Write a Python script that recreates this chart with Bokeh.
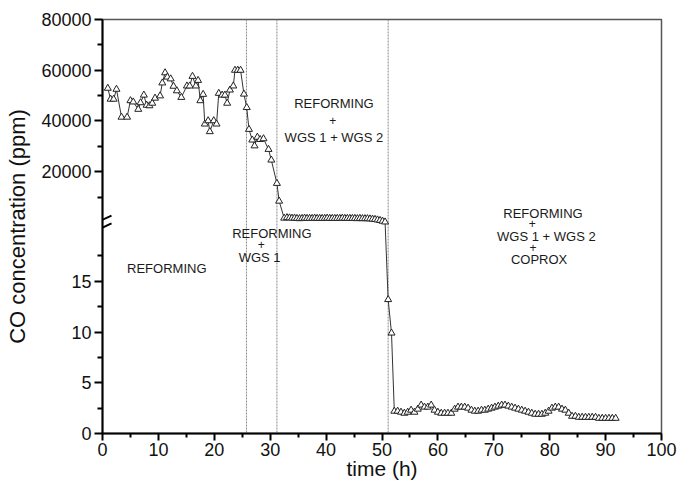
import numpy as np
from bokeh.plotting import figure
from bokeh.models import ColumnDataSource, FixedTicker, Span, Label, Arrow
from bokeh.embed import file_html
from bokeh.resources import INLINE

# ---------------- data ----------------
time_h = [
    0.95, 1.45, 2.0, 2.5, 3.4, 4.4, 5.0, 5.5, 6.4, 6.8,
    7.4, 7.9, 8.4, 8.9, 9.4, 10.3, 10.7, 11.2, 11.6, 12.2,
    12.7, 13.3, 14.1, 15.1, 15.6, 16.1, 16.7, 17.1, 17.5, 18.0,
    18.3, 18.9, 19.2, 19.9, 20.4, 20.8, 21.4, 21.9, 22.3, 22.8,
    23.4, 23.7, 24.2, 24.7, 25.3, 25.8, 26.2, 26.8, 27.2, 27.7,
    28.2, 28.8, 29.7, 30.2, 31.2, 31.6, 32.5,
    33.0, 33.45, 33.9, 34.35, 34.8, 35.25, 35.7, 36.15, 36.6, 37.05,
    37.5, 37.95, 38.4, 38.85, 39.3, 39.75, 40.2, 40.65, 41.1, 41.55,
    42.0, 42.45, 42.9, 43.35, 43.8, 44.25, 44.7, 45.15, 45.6, 46.05,
    46.5, 46.95, 47.4, 47.85, 48.3, 48.75, 49.2, 49.65, 50.1, 50.55,
    51.1, 51.7,
    52.2, 52.8, 53.4, 54.0, 54.6, 55.2, 55.8, 56.4, 57.0, 57.6,
    58.2, 58.8, 59.4, 60.0, 60.6, 61.2, 61.8, 62.4, 63.0, 63.6,
    64.2, 64.8, 65.4, 66.0, 66.6, 67.2, 67.8, 68.4, 69.0, 69.6,
    70.2, 70.8, 71.4, 72.0, 72.6, 73.2, 73.8, 74.4, 75.0, 75.6,
    76.2, 76.8, 77.4, 78.0, 78.6, 79.2, 79.8, 80.4, 81.0, 81.6,
    82.2, 82.8, 83.4, 84.0, 84.6, 85.2, 85.8, 86.4, 87.0, 87.6,
    88.2, 88.8, 89.4, 90.0, 90.6, 91.2, 91.8,
]
co_ppm = [
    52900, 48600, 48600, 52500, 41500, 41500, 48000, 47500, 44600, 47200,
    50200, 46200, 46000, 47000, 49000, 49900, 55000, 59000, 57300, 56600,
    53700, 51900, 49300, 53800, 53800, 57600, 53800, 56000, 48000, 50500,
    38800, 40100, 35800, 40100, 38800, 50900, 50200, 50200, 47000, 52200,
    53800, 60000, 60000, 60000, 50600, 45300, 36700, 32500, 30200, 33600,
    32700, 33000, 28800, 24600, 15400, 8400, 1700,
    1900, 1800, 1700, 1700, 1600, 1500, 1600, 1700, 1600, 1600,
    1600, 1700, 1600, 1600, 1600, 1600, 1700, 1600, 1600, 1600,
    1600, 1600, 1700, 1600, 1600, 1600, 1600, 1600, 1500, 1600,
    1500, 1500, 1500, 1400, 1300, 1200, 1000, 800, 500, 200,
    13.2, 9.9,
    2.2, 2.2, 2.1, 2.0, 2.1, 2.3, 2.1, 2.4, 2.8, 2.6,
    2.6, 2.8, 2.3, 2.1, 2.0, 2.0, 2.0, 2.0, 2.4, 2.6,
    2.6, 2.6, 2.5, 2.3, 2.2, 2.2, 2.3, 2.3, 2.4, 2.5,
    2.6, 2.7, 2.8, 2.8, 2.7, 2.6, 2.5, 2.4, 2.3, 2.2,
    2.1, 2.0, 1.9, 1.9, 1.9, 2.0, 2.2, 2.5, 2.6, 2.6,
    2.4, 2.3, 2.0, 1.7, 1.7, 1.6, 1.6, 1.6, 1.6, 1.6,
    1.6, 1.5, 1.5, 1.5, 1.5, 1.5, 1.5,
]

phase_starts = [25.75, 31.2, 51.1]          # vertical separators (h)

x_major = [0, 10, 20, 30, 40, 50, 60, 70, 80, 90, 100]
x_minor = [5, 15, 25, 35, 45, 55, 65, 75, 85, 95]
y_lower_major = [0, 5, 10, 15]
y_lower_minor = [2.5, 7.5, 12.5, 17.5]
y_upper_major = [20000, 40000, 60000, 80000]
y_upper_minor = [10000, 30000, 50000, 70000]

# ---------------- broken axis mapping ----------------
LOWER_MAX = 20.0      # ppm values up to this use the lower (0-20 ppm) segment
LOWER_SCALE = 10.0    # axis units per ppm on lower segment
UPPER_BASE = 208.0    # axis position of 0 ppm on the upper segment
UPPER_DIV = 400.0     # ppm per axis unit on upper segment


def to_axis(v):
    v = np.asarray(v, dtype=float)
    return np.where(v > LOWER_MAX, UPPER_BASE + v / UPPER_DIV, v * LOWER_SCALE)


def lower_pos(v):
    return int(round(float(v) * LOWER_SCALE))


def upper_pos(v):
    return int(round(UPPER_BASE + float(v) / UPPER_DIV))


FONT = "Liberation Sans"

src = ColumnDataSource(dict(t=time_h, y=to_axis(co_ppm)))

p = figure(width=678, height=485, x_range=(0, 100), y_range=(0, 408),
           output_backend="svg", toolbar_location=None,
           min_border_left=102, min_border_right=17, min_border_top=19,
           min_border_bottom=52)
p.background_fill_color = "white"
p.border_fill_color = "white"
p.outline_line_color = "#555555"
p.outline_line_width = 1.5
p.xgrid.visible = False
p.ygrid.visible = False

# vertical phase separators
for loc in phase_starts:
    p.add_layout(Span(location=loc, dimension="height", line_color="#8a8a8a",
                      line_dash="2 1", line_width=1, level="underlay"))

p.line("t", "y", source=src, line_color="#333333", line_width=1)
p.scatter("t", "y", source=src, marker="triangle", size=7,
          fill_color="white", line_color="#222222", line_width=1)

# ---- axes ----
xa = p.xaxis[0]
xa.ticker = FixedTicker(ticks=x_major, minor_ticks=x_minor)
ya = p.yaxis[0]
ya.ticker = FixedTicker(
    ticks=[lower_pos(v) for v in y_lower_major] + [upper_pos(v) for v in y_upper_major],
    minor_ticks=[v * LOWER_SCALE for v in y_lower_minor] + [UPPER_BASE + v / UPPER_DIV for v in y_upper_minor])
overrides = {lower_pos(v): str(v) for v in y_lower_major}
overrides.update({upper_pos(v): str(v) for v in y_upper_major})
ya.major_label_overrides = overrides

for ax in (xa, ya):
    ax.axis_line_width = 2
    ax.axis_line_color = "black"
    ax.major_tick_line_width = 2
    ax.minor_tick_line_width = 2
    ax.major_tick_in = 0
    ax.minor_tick_in = 0
    ax.major_label_text_font = FONT
    ax.major_label_text_font_size = "18px"
    ax.major_label_text_color = "#111111"
    ax.axis_label_text_font = FONT
    ax.axis_label_text_font_style = "normal"
    ax.axis_label_text_color = "#111111"

xa.major_tick_out = 7
xa.minor_tick_out = 4
xa.major_label_standoff = 2
xa.axis_label = "time (h)"
xa.axis_label_text_font_size = "21px"
xa.axis_label_standoff = -2

ya.major_tick_out = 8
ya.minor_tick_out = 5
ya.major_label_standoff = 3
ya.axis_label = "CO concentration (ppm)"
ya.axis_label_text_font_size = "22px"
ya.axis_label_standoff = 8

# axis-break marks
for ys, ye in [(206.0, 214.8), (198.1, 207.0)]:
    p.add_layout(Arrow(end=None, x_start=-1.79, y_start=ys, x_end=1.61, y_end=ye,
                       line_color="black", line_width=2))

# phase annotations
notes = [
    ("REFORMING", 11.5, 162.6, "13px"),
    ("REFORMING", 30.3, 196.8, "13px"),
    ("+", 28.4, 186.3, "12px"),
    ("WGS 1", 28.1, 173.4, "13px"),
    ("REFORMING", 41.4, 324.9, "13px"),
    ("+", 41.2, 308.5, "12px"),
    ("WGS 1 + WGS 2", 41.4, 292.0, "13px"),
    ("REFORMING", 78.8, 216.5, "13px"),
    ("+", 76.9, 207.3, "12px"),
    ("WGS 1 + WGS 2", 79.4, 194.1, "13px"),
    ("+", 77.0, 183.6, "12px"),
    ("COPROX", 78.1, 171.2, "13px"),
]
for txt, x, y, fs in notes:
    p.add_layout(Label(x=x, y=y, text=txt, text_font=FONT, text_font_size=fs,
                       text_color="#1a1a1a", text_align="center",
                       text_baseline="middle"))

open("out.html", "w").write(file_html(p, INLINE))
